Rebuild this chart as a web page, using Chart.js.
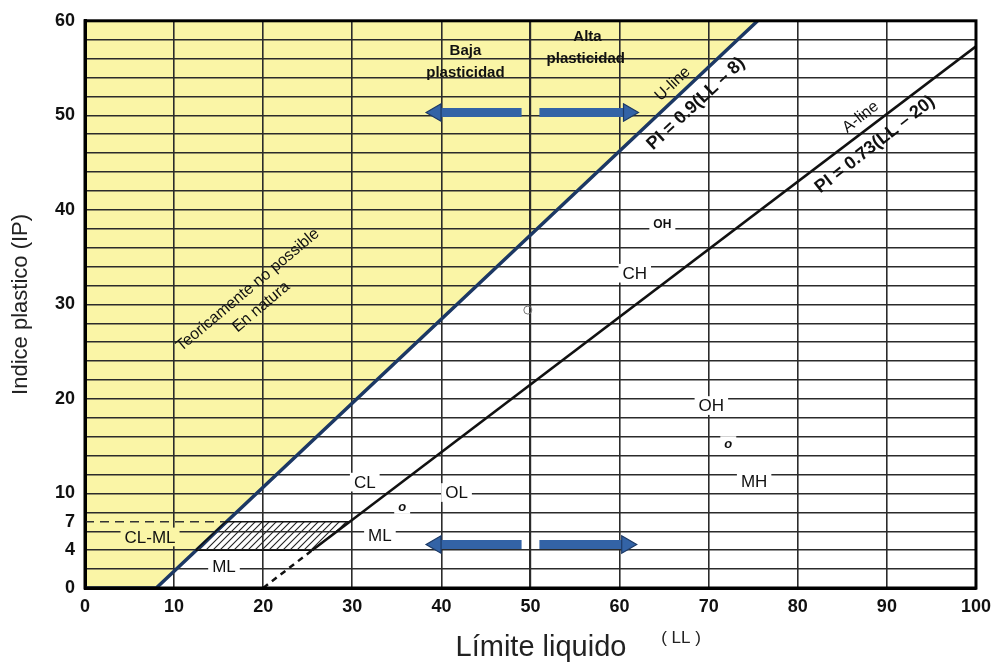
<!DOCTYPE html>
<html>
<head>
<meta charset="utf-8">
<script src="https://cdn.jsdelivr.net/npm/chart.js@4.4.0/dist/chart.umd.min.js"></script>
<style>
html, body { margin: 0; padding: 0; background: #fff; }
#wrap { width: 999px; height: 664px; position: relative; }
</style>
</head>
<body>
<div id="wrap"><canvas id="plasticityChart"></canvas></div>
<script>
// Plasticity chart (Casagrande) - LL vs IP
const yTickLabels = [0, 4, 7, 10, 20, 30, 40, 50, 60];
const yGridValues = [7];
for (let v = 0; v <= 60; v += 2) yGridValues.push(v);
yGridValues.sort((a, b) => a - b);

const uLine = [{x: 0, y: 0}, {x: 8, y: 0}, {x: 75.5, y: 60}];
const yellowZone = [{x: 0, y: 0}, {x: 8, y: 0}, {x: 75.5, y: 60}, {x: 0, y: 60}, {x: 0, y: 0}];
const aLineSolid = [{x: 25.5, y: 4}, {x: 100, y: 57.3}];
const aLineDashed = [{x: 20, y: 0}, {x: 25.5, y: 4}];
const clmlZone = [{x: 12.4, y: 4}, {x: 25.5, y: 4}, {x: 29.6, y: 7}, {x: 15.8, y: 7}, {x: 12.4, y: 4}];
const clmlDash = [{x: 0, y: 7}, {x: 15.8, y: 7}];
const arrowTopLeft = [{x: 49, y: 50.3}, {x: 39.4, y: 50.3}];
const arrowTopRight = [{x: 51, y: 50.3}, {x: 61, y: 50.3}];
const arrowLowLeft = [{x: 49, y: 4.6}, {x: 39.4, y: 4.6}];
const arrowLowRight = [{x: 51, y: 4.6}, {x: 60.8, y: 4.6}];
const smallCircle = [{x: 49.7, y: 29.4}];

// text labels: [text, LL, IP, rotation, style]
const zoneLabels = [
  ['Baja', 42.7, 56.9, 0, 'b15'],
  ['plasticidad', 42.7, 54.6, 0, 'b15'],
  ['Alta', 56.4, 58.4, 0, 'b15'],
  ['plasticidad', 56.2, 56.1, 0, 'b15'],
  ['U-line', 65.9, 53.4, -43, 'n16'],
  ['PI = 0.9(LL – 8)', 68.5, 51.3, -43, 'b18'],
  ['A-line', 87.0, 49.9, -38, 'n16'],
  ['PI = 0.73(LL – 20)', 88.6, 47.0, -38, 'b18'],
  ['Teoricamente no possible', 18.2, 31.6, -40, 'n16'],
  ['En natura', 19.7, 29.8, -40, 'n16'],
  ['OH', 64.8, 38.5, 0, 'b12w'],
  ['CH', 61.7, 33.3, 0, 'n17w'],
  ['OH', 70.3, 19.3, 0, 'n17w'],
  ['o', 72.2, 15.3, 0, 'i13w'],
  ['MH', 75.1, 11.3, 0, 'n17w'],
  ['CL', 31.4, 11.2, 0, 'n17w'],
  ['o', 35.6, 8.6, 0, 'i13w'],
  ['OL', 41.7, 10.1, 0, 'n17w'],
  ['ML', 33.1, 5.6, 0, 'n17w'],
  ['CL-ML', 7.3, 5.4, 0, 'n17y'],
  ['ML', 15.6, 2.3, 0, 'n17w']
];

const YELLOW = '#faf5a6';
const BLUE = '#3363a6';
const FONT = "'Liberation Sans', Arial, sans-serif";

const ctx = document.getElementById('plasticityChart');

function makeHatch() {
  const c = document.createElement('canvas');
  c.width = 7; c.height = 7;
  const g = c.getContext('2d');
  g.fillStyle = '#fff';
  g.fillRect(0, 0, 7, 7);
  g.strokeStyle = '#222';
  g.lineWidth = 1.1;
  g.beginPath();
  g.moveTo(-1, 8); g.lineTo(8, -1);
  g.moveTo(-1, 1); g.lineTo(1, -1);
  g.moveTo(6, 8); g.lineTo(8, 6);
  g.stroke();
  return ctx.getContext('2d').createPattern(c, 'repeat');
}

const labelPlugin = {
  id: 'labels',
  afterDatasetsDraw(chart) {
    const c = chart.ctx, xs = chart.scales.x, ys = chart.scales.y;
    const a = chart.chartArea;
    // frame
    c.save();
    c.strokeStyle = '#000';
    c.lineWidth = 3;
    c.strokeRect(a.left, a.top, a.right - a.left, a.bottom - a.top);
    c.restore();
    zoneLabels.forEach(l => {
      const st = l[4];
      const weight = st[0] === 'b' ? 'bold ' : (st[0] === 'i' ? 'italic bold ' : '');
      const size = parseInt(st.slice(1));
      const bg = st.endsWith('w') ? '#fff' : (st.endsWith('y') ? YELLOW : null);
      c.save();
      c.translate(xs.getPixelForValue(l[1]), ys.getPixelForValue(l[2]));
      c.rotate(l[3] * Math.PI / 180);
      c.font = weight + size + 'px ' + FONT;
      c.textAlign = 'center';
      c.textBaseline = 'middle';
      if (bg) {
        const w = c.measureText(l[0]).width + 8;
        c.fillStyle = bg;
        c.fillRect(-w / 2, -size * 0.55, w, size * 1.1);
      }
      c.fillStyle = '#111';
      c.fillText(l[0], 0, 1);
      c.restore();
    });
    // x axis title
    c.save();
    c.fillStyle = '#222';
    c.textAlign = 'center';
    c.textBaseline = 'middle';
    c.font = '29px ' + FONT;
    c.fillText('Límite liquido', 541, 648);
    c.font = '17px ' + FONT;
    c.fillText('( LL )', 681, 638);
    c.restore();
  }
};

function arrow(data, rot) {
  return {
    data: data,
    borderColor: BLUE,
    borderWidth: 9,
    pointStyle: 'triangle',
    pointRotation: rot,
    pointRadius: [0, 10],
    pointBackgroundColor: BLUE,
    pointBorderColor: '#1d3a66',
    pointBorderWidth: 1.2,
    fill: false
  };
}

new Chart(ctx, {
  type: 'line',
  data: {
    datasets: [
      {data: yellowZone, borderWidth: 0, borderColor: 'rgba(0,0,0,0)', backgroundColor: YELLOW, fill: 'shape', pointRadius: 0},
      {data: clmlZone, borderWidth: 1.5, borderColor: '#111', backgroundColor: makeHatch(), fill: 'shape', pointRadius: 0},
      {data: clmlDash, borderWidth: 1.5, borderColor: '#333', borderDash: [9, 6], pointRadius: 0, fill: false},
      {data: aLineDashed, borderWidth: 2.5, borderColor: '#111', borderDash: [6, 5], pointRadius: 0, fill: false},
      {data: aLineSolid, borderWidth: 2.5, borderColor: '#111', pointRadius: 0, fill: false},
      {data: uLine, borderWidth: 3.5, borderColor: '#1c3864', pointRadius: 0, fill: false},
      {data: smallCircle, showLine: false, pointRadius: 4, pointBorderColor: '#777', pointBackgroundColor: 'rgba(0,0,0,0)', pointBorderWidth: 1},
      arrow(arrowTopLeft, -90),
      arrow(arrowTopRight, 90),
      arrow(arrowLowLeft, -90),
      arrow(arrowLowRight, 90)
    ]
  },
  options: {
    responsive: true,
    maintainAspectRatio: false,
    animation: false,
    events: [],
    layout: {padding: {top: 17, right: 19, left: 0, bottom: 0}},
    plugins: {
      legend: {display: false},
      tooltip: {enabled: false},
      filler: {drawTime: 'beforeDraw'}
    },
    scales: {
      x: {
        type: 'linear',
        min: 0,
        max: 100,
        afterFit: s => { s.height = 76; },
        ticks: {stepSize: 10, maxRotation: 0, padding: 8, color: '#111', font: {family: FONT, size: 18, weight: 'bold'}},
        grid: {color: '#2b2b2b', lineWidth: c => (c.tick && c.tick.value === 50 ? 2.2 : 1.6), drawTicks: false},
        border: {display: true, color: '#000', width: 3},
        title: {display: false}
      },
      y: {
        type: 'linear',
        min: 0,
        max: 60,
        afterBuildTicks: s => { s.ticks = yGridValues.map(v => ({value: v})); },
        afterFit: s => { s.width = 85; },
        ticks: {
          autoSkip: false,
          padding: 10,
          color: '#111',
          font: {family: FONT, size: 18, weight: 'bold'},
          callback: v => (yTickLabels.includes(v) ? String(v) : '')
        },
        grid: {color: c => (c.tick && c.tick.value === 7 ? 'rgba(0,0,0,0)' : '#2b2b2b'), lineWidth: 1.5, drawTicks: false},
        border: {display: true, color: '#000', width: 3},
        title: {display: true, text: 'Indice plastico (IP)', color: '#222', font: {family: FONT, size: 22}, padding: {top: 8, bottom: 0}}
      }
    }
  },
  plugins: [labelPlugin]
});
</script>
</body>
</html>
